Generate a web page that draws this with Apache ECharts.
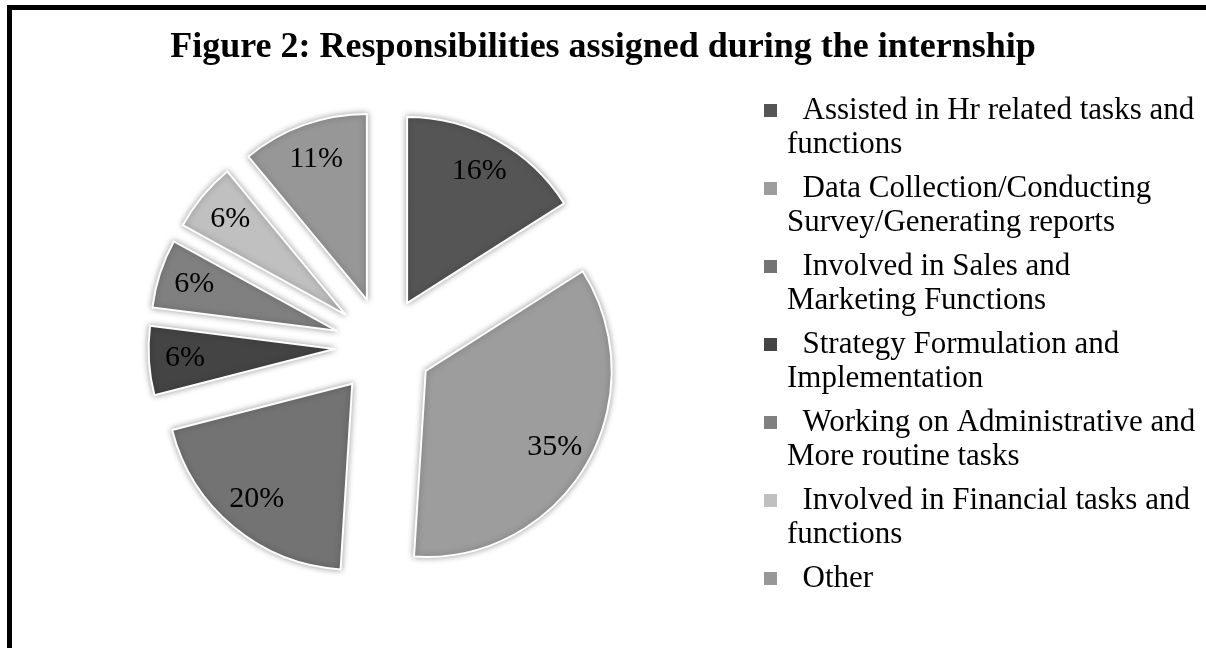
<!DOCTYPE html>
<html>
<head>
<meta charset="utf-8">
<title>Figure 2</title>
<script src="https://cdn.jsdelivr.net/npm/echarts@6/dist/echarts.min.js"></script>
<style>
    html, body { margin: 0; padding: 0; background: #fff; }
    #wrap { position: relative; width: 1206px; height: 648px; overflow: hidden; }
    #chart { position: absolute; left: 0; top: 0; width: 1206px; height: 648px; }
    .frame {
        position: absolute; left: 7px; top: 5px; right: -10px; bottom: -10px;
        border-left: 5px solid #000; border-top: 5px solid #000;
        pointer-events: none;
    }
</style>
</head>
<body>
<div id="wrap">
    <div id="chart"></div>
    <div class="frame"></div>
</div>
<script>
// categories (clockwise from 12 o'clock)
var categories = [
    'Assisted in Hr related tasks and functions',
    'Data Collection/Conducting Survey/Generating reports',
    'Involved in Sales and Marketing Functions',
    'Strategy Formulation and Implementation',
    'Working on Administrative and More routine tasks',
    'Involved in Financial tasks and functions',
    'Other'
];
// legend text as wrapped in the picture
var legendLines = [
    ['Assisted in Hr related tasks and', 'functions'],
    ['Data Collection/Conducting', 'Survey/Generating reports'],
    ['Involved in Sales and', 'Marketing Functions'],
    ['Strategy Formulation and', 'Implementation'],
    ['Working on Administrative and', 'More routine tasks'],
    ['Involved in Financial tasks and', 'functions'],
    ['Other']
];
var values = [16, 35, 20, 6, 6, 6, 11];
var colors = ['#555555', '#9d9d9d', '#737373', '#444444', '#808080', '#c0c0c0', '#979797'];

var serif = "'Liberation Serif', 'Times New Roman', serif";
var LH = 34;

var pieData = [];
var labelData = [];
for (var i = 0; i < categories.length; i++) {
    pieData.push({ name: categories[i], value: values[i], selected: true, itemStyle: { color: colors[i] } });
    labelData.push({ name: categories[i], value: values[i], selected: true });
}

// 3 text lines per item, first text line sits in the middle (next to the marker)
function legendText(name) {
    var lines = legendLines[categories.indexOf(name)];
    var second = lines.length > 1 ? lines[1] : ' ';
    return ' \n  ' + lines[0] + '\n' + second;
}

var chart = echarts.init(document.getElementById('chart'));
chart.setOption({
    backgroundColor: '#fff',
    animation: false,
    title: {
        text: 'Figure 2: Responsibilities assigned during the internship',
        left: 'center',
        top: 25,
        textStyle: { fontFamily: serif, fontSize: 36, fontWeight: 'bold', color: '#000' }
    },
    legend: {
        orient: 'vertical',
        left: 764,
        top: 110.5 - 1.5 * LH,
        padding: 0,
        itemGap: 78 - 3 * LH,
        itemWidth: 13,
        itemHeight: 13,
        icon: 'rect',
        selectedMode: false,
        itemStyle: { borderWidth: 0, shadowBlur: 0 },
        textStyle: { fontFamily: serif, fontSize: 31, lineHeight: LH, color: '#000', padding: [0, 0, 0, 5] },
        formatter: legendText,
        data: categories
    },
    series: [{
        type: 'pie',
        center: [383.5, 346],
        radius: 186,
        startAngle: 90,
        clockwise: true,
        selectedMode: 'multiple',
        selectedOffset: 49,
        avoidLabelOverlap: false,
        label: { show: false },
        labelLine: { show: false },
        itemStyle: {
            borderColor: '#fff',
            borderWidth: 2,
            shadowBlur: 6,
            shadowColor: 'rgba(0,0,0,0.35)'
        },
        select: { itemStyle: { borderColor: '#fff', borderWidth: 2 } },
        emphasis: { scale: false },
        data: pieData
    }, {
        // label layer, same data
        type: 'pie',
        center: [383.5, 346],
        radius: [108, 186],
        startAngle: 90,
        clockwise: true,
        selectedMode: 'multiple',
        selectedOffset: 49,
        silent: true,
        avoidLabelOverlap: false,
        itemStyle: { color: 'rgba(0,0,0,0)', borderWidth: 0 },
        select: { itemStyle: { color: 'rgba(0,0,0,0)', borderWidth: 0 } },
        emphasis: { scale: false },
        label: {
            show: true,
            position: 'inside',
            formatter: '{d}%',
            fontFamily: serif,
            fontSize: 30,
            color: '#000',
            offset: [0, 3]
        },
        labelLine: { show: false },
        data: labelData
    }]
});
</script>
</body>
</html>
